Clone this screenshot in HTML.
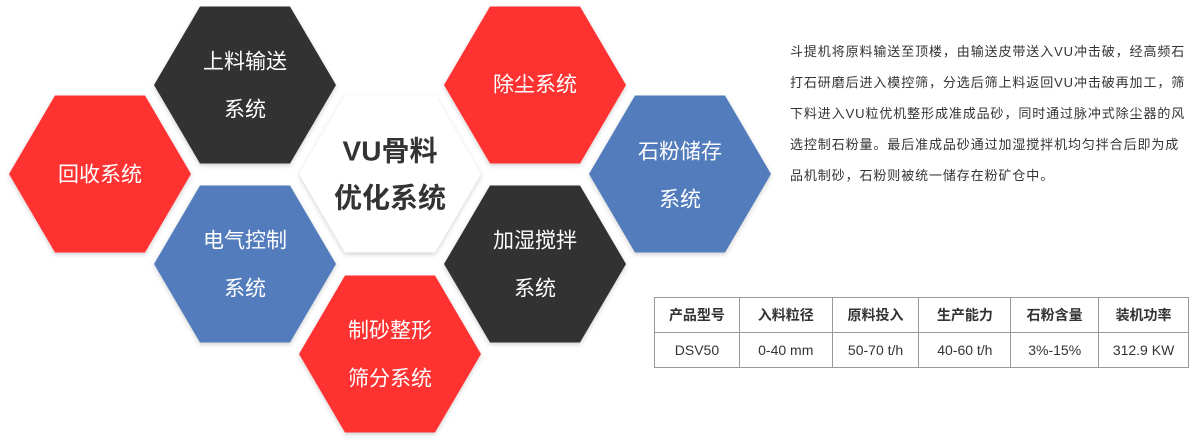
<!DOCTYPE html>
<html><head><meta charset="utf-8"><style>
body{margin:0;width:1189px;height:446px;background:#fff;overflow:hidden;position:relative;font-family:"Liberation Sans","Noto Sans CJK SC",sans-serif;}
svg{position:absolute;left:0;top:0}
.p{position:absolute;left:790px;top:36px;font-size:13px;color:#333;line-height:31px;white-space:nowrap;letter-spacing:0.9px}
table{position:absolute;left:654px;top:297px;border-collapse:collapse;font-size:14px;color:#333}
td{border:1px solid #999;height:34px;padding:0;text-align:center}
tr:first-child td{font-weight:bold}
</style></head><body>
<svg width="1189" height="446" font-family="Liberation Sans, Noto Sans CJK SC, sans-serif">
<defs>
<polygon id="h" points="-45,-78.5 45,-78.5 91,0 45,78.5 -45,78.5 -91,0"/>
<filter id="s" x="-20%" y="-20%" width="140%" height="140%"><feDropShadow dx="0" dy="2" stdDeviation="2.5" flood-color="#000" flood-opacity="0.18"/></filter>
</defs>
<g filter="url(#s)">
<use href="#h" x="100" y="174" fill="#ff3131"/>
<use href="#h" x="245" y="85" fill="#333333"/>
<use href="#h" x="245" y="264" fill="#527bbd"/>
<use href="#h" x="390" y="174" fill="#ffffff"/>
<use href="#h" x="390" y="354" fill="#ff3131"/>
<use href="#h" x="535" y="85" fill="#ff3131"/>
<use href="#h" x="535" y="264" fill="#333333"/>
<use href="#h" x="680" y="174" fill="#527bbd"/>
</g>
<g fill="#fff" font-size="21" text-anchor="middle" dominant-baseline="central">
<text x="100" y="175">回收系统</text>
<text x="245" y="62">上料输送</text><text x="245" y="110">系统</text>
<text x="245" y="241">电气控制</text><text x="245" y="289">系统</text>
<text x="390" y="331">制砂整形</text><text x="390" y="379">筛分系统</text>
<text x="535" y="85">除尘系统</text>
<text x="535" y="241">加湿搅拌</text><text x="535" y="289">系统</text>
<text x="680" y="152">石粉储存</text><text x="680" y="200">系统</text>
</g>
<g fill="#333" font-size="28" font-weight="bold" text-anchor="middle" dominant-baseline="central">
<text x="390" y="151">VU骨料</text><text x="390" y="198">优化系统</text>
</g>
</svg>
<div class="p">斗提机将原料输送至顶楼，由输送皮带送入VU冲击破，经高频石<br>打石研磨后进入模控筛，分选后筛上料返回VU冲击破再加工，筛<br>下料进入VU粒优机整形成准成品砂，同时通过脉冲式除尘器的风<br>选控制石粉量。最后准成品砂通过加湿搅拌机均匀拌合后即为成<br>品机制砂，石粉则被统一储存在粉矿仓中。</div>
<table>
<tr><td style="width:84px">产品型号</td><td style="width:92px">入料粒径</td><td style="width:86px">原料投入</td><td style="width:91px">生产能力</td><td style="width:87px">石粉含量</td><td style="width:89px">装机功率</td></tr>
<tr><td>DSV50</td><td>0-40 mm</td><td>50-70 t/h</td><td>40-60 t/h</td><td>3%-15%</td><td>312.9 KW</td></tr>
</table>
</body></html>
